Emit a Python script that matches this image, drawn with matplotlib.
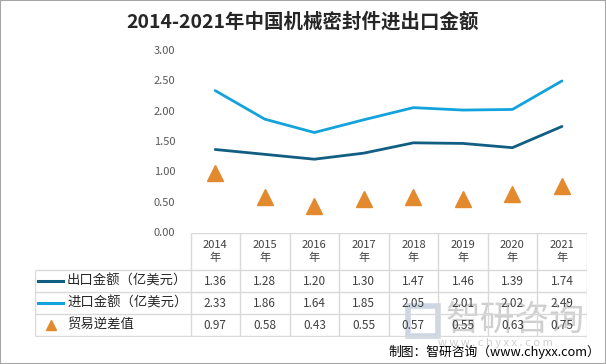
import numpy as np
import matplotlib
matplotlib.use('Agg')
import matplotlib.pyplot as plt
from matplotlib.patches import Rectangle

plt.rcParams['font.family'] = ['Noto Sans CJK SC', 'DejaVu Sans']

years = ['2014', '2015', '2016', '2017', '2018', '2019', '2020', '2021']
export_vals = [1.36, 1.28, 1.20, 1.30, 1.47, 1.46, 1.39, 1.74]
import_vals = [2.33, 1.86, 1.64, 1.85, 2.05, 2.01, 2.02, 2.49]
deficit_vals = [0.97, 0.58, 0.43, 0.55, 0.57, 0.55, 0.63, 0.75]
series_names = ['出口金额（亿美元）', '进口金额（亿美元）', '贸易逆差值']
yticks = [0.0, 0.5, 1.0, 1.5, 2.0, 2.5, 3.0]

c_exp = '#115e82'
c_imp = '#13a3dc'
c_def = '#e38a2e'
grid_c = '#d9d9d9'
txt_c = '#404040'

W, H = 606, 364
fig = plt.figure(figsize=(W / 100, H / 100), dpi=100)
fig.patch.set_facecolor('white')
fig.patches.append(Rectangle((0, 0), 1, 1, transform=fig.transFigure,
                             fill=False, edgecolor='#a6a6a6', lw=1.5))

def fbox(x0, y0, x1, y1):
    # pixel box (top-left origin) -> figure fraction rect
    return [x0 / W, 1 - y1 / H, (x1 - x0) / W, (y1 - y0) / H]

x = np.arange(len(years))
left_px, right_px = 190.5, 586.7
colw = (right_px - left_px) / len(years)

# main plot area
ax = fig.add_axes(fbox(left_px, 50, right_px, 232))
ax.plot(x, export_vals, color=c_exp, lw=2.0, solid_capstyle='round')
ax.plot(x, import_vals, color=c_imp, lw=2.0, solid_capstyle='round')
ax.plot(x, deficit_vals, ls='none', marker='^', ms=11, color=c_def)
ax.set_xlim(-0.5, len(years) - 0.5)
ax.set_ylim(0, 3)
ax.set_yticks(yticks)
ax.set_yticklabels(['%.2f' % v for v in yticks], fontsize=8, color='#595959')
ax.tick_params(axis='y', length=0, pad=11)
ax.set_xticks([])
for s in ax.spines.values():
    s.set_visible(False)

# watermark (behind the table)
fig.text(515 / W, 1 - 320 / H, '智研咨询', ha='center', va='center',
         fontsize=25, color='#cfcfcf', zorder=-1)
fig.text(495 / W, 1 - 343 / H, 'w w w . c h y x x . c o m', ha='center',
         va='center', fontsize=8, color='#cfcfcf', zorder=-1)
fig.patches.append(Rectangle((408 / W, 1 - 336 / H), 30 / W, 30 / H,
                             transform=fig.transFigure, fill=False,
                             edgecolor='#cdd6e5', lw=4, zorder=-1))

# data table below the plot
legend_px = 35
x_leg = -0.5 - (left_px - legend_px) / colw
ax_t = fig.add_axes(fbox(legend_px, 233, right_px, 337))
ax_t.set_xlim(x_leg, len(years) - 0.5)
ax_t.set_ylim(104, 0)
ax_t.axis('off')
row_edges = [0, 37, 59, 81, 103]
ax_t.hlines(row_edges[0], -0.5, len(years) - 0.5, color=grid_c, lw=1)
ax_t.hlines(row_edges[1:], x_leg, len(years) - 0.5, color=grid_c, lw=1)
ax_t.vlines(np.arange(len(years) + 1) - 0.5, 0, 103, color=grid_c, lw=1)
ax_t.vlines(x_leg, 37, 103, color=grid_c, lw=1)

for i, yr in enumerate(years):
    ax_t.text(i, 18.5, yr + '\n年', ha='center', va='center', fontsize=8,
              color=txt_c, linespacing=1.35)

rows = [export_vals, import_vals, deficit_vals]
def px2d(px):
    return -0.5 + (px - left_px) / colw

for r, vals in enumerate(rows):
    yc = (row_edges[r + 1] + row_edges[r + 2]) / 2
    for i, v in enumerate(vals):
        ax_t.text(i, yc + 0.5, '%.2f' % v, ha='center', va='center',
                  fontsize=8.5, color=txt_c)
    if r < 2:
        ax_t.plot([px2d(38), px2d(63)], [yc, yc], color=[c_exp, c_imp][r], lw=2.2)
    else:
        ax_t.plot([px2d(51)], [yc], marker='^', ms=7, color=c_def)
    ax_t.text(px2d(67), yc, series_names[r], ha='left', va='center',
              fontsize=9.6, color='#262626')

# title and source
fig.text(0.5, 1 - 22 / H, '2014-2021年中国机械密封件进出口金额', ha='center',
         va='center', fontsize=14, fontweight='bold', color='#262626')
fig.text(600 / W, 1 - 352 / H, '制图：智研咨询（www.chyxx.com）', ha='right',
         va='center', fontsize=9.2, color='#000000')

fig.savefig('out.png', dpi=100)
